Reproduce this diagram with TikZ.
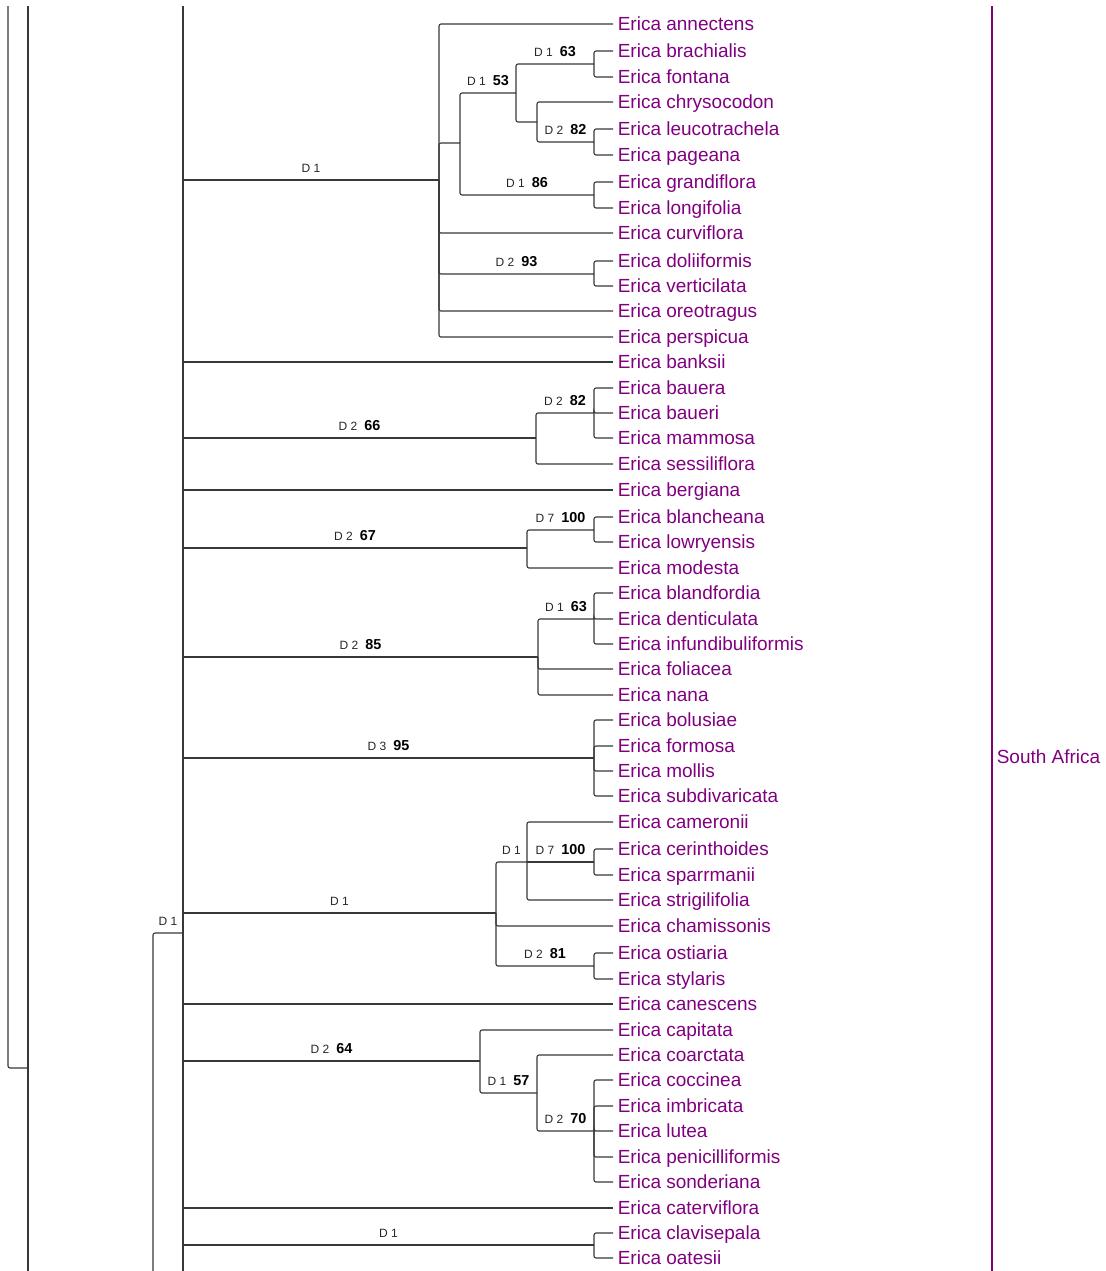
\documentclass[tikz,border=0pt]{standalone}
\usepackage{fontspec}
\setmainfont{Liberation Sans}
\usepackage{tikz}
\usetikzlibrary{calc}
\definecolor{ericapurple}{RGB}{128,0,128}
\colorlet{linegray}{black!78}
\newcommand{\taxonsize}{\fontsize{9.5}{11}\selectfont}
\newcommand{\dsize}{\fontsize{6}{7}\selectfont}
\newcommand{\supportlab}[2]{#1\hspace{3.5pt}{\color{black}\bfseries\fontsize{7.2}{8}\selectfont #2}}

\begin{document}
\begin{tikzpicture}[
		x=0.5pt, y=-0.5pt,
		inner sep=0pt, outer sep=0pt,%
		branch/.style={line width=0.55pt, color=linegray, rounded corners=1pt},
		taxon/.style={anchor=west, inner sep=2.4pt, text=ericapurple, font=\taxonsize,
			text height=6.8pt, text depth=0pt},
		support/.style={anchor=south, yshift=3.7pt, text=black!85, font=\dsize, text depth=0pt},
		region/.style={line width=0.8pt, color=ericapurple},
	]
		\useasboundingbox (0,0) rectangle (1105,1271);

		% Taxa
		\foreach \y/\n in {24/annectens, 51/brachialis, 77/fontana, 102/chrysocodon,
			129/leucotrachela, 155/pageana, 182/grandiflora, 208/longifolia,
			233/curviflora, 261/doliiformis, 286/verticilata, 311/oreotragus,
			337/perspicua, 362/banksii, 388/bauera, 413/baueri, 438/mammosa,
			464/sessiliflora, 490/bergiana, 517/blancheana, 542/lowryensis,
			568/modesta, 593/blandfordia, 619/denticulata, 644/infundibuliformis,
			669/foliacea, 695/nana, 720/bolusiae, 746/formosa, 771/mollis,
			796/subdivaricata, 822/cameronii, 849/cerinthoides, 875/sparrmanii,
			900/strigilifolia, 926/chamissonis, 953/ostiaria, 979/stylaris,
			1004/canescens, 1030/capitata, 1055/coarctata, 1080/coccinea,
			1106/imbricata, 1131/lutea, 1157/penicilliformis, 1182/sonderiana,
			1208/caterviflora, 1233/clavisepala, 1258/oatesii}
			\node[taxon] (\n) at (613,\y) {Erica \n};

		% Region bar
		\coordinate (bar top) at (992,6);
		\coordinate (bar bot) at (992,1271);
		\draw[region] (bar top) -- (bar bot);
		\node[taxon] (africa) at (992,757) {South Africa};

		% Stems cut by the page edge
		\coordinate (deep top) at (8,6);
		\coordinate (deep) at (28,1068);
		\coordinate (mid top) at (28,6);
		\coordinate (mid bot) at (28,1271);
		\coordinate (root top) at (183,6);
		\coordinate (root bot) at (183,1271);
		\coordinate (root) at (183,933);
		\coordinate (base) at (153,1271);
		\draw[branch] (deep top) |- (deep);
		\draw[branch] (mid top) -- (mid bot);
		\draw[branch] (root top) -- (root bot);
		\draw[branch] (base) |- node[support, pos=0.75] {D 1} (root);

		% Clade nodes
		\coordinate (cA) at (439,180);
		\coordinate (cA1) at (460,143);
		\coordinate (cA2) at (516,93);
		\coordinate (cA3) at (594,64);
		\coordinate (cA4) at (537,122);
		\coordinate (cA5) at (594,142);
		\coordinate (cA6) at (594,195);
		\coordinate (cA7) at (594,274);
		\coordinate (cB) at (536,438);
		\coordinate (cB1) at (594,413);
		\coordinate (cC) at (527,548);
		\coordinate (cC1) at (594,530);
		\coordinate (cD) at (538,657);
		\coordinate (cD1) at (594,619);
		\coordinate (cE) at (594,758);
		\coordinate (cF) at (496,913);
		\coordinate (cF1) at (527,862);
		\coordinate (cF2) at (594,862);
		\coordinate (cF3) at (594,966);
		\coordinate (cG) at (480,1061);
		\coordinate (cG1) at (537,1093);
		\coordinate (cG2) at (594,1131);
		\coordinate (cH) at (594,1245);

		% Branches off the root
		\draw[branch] (root |- cA) -- node[support] {D 1} (cA);
		\draw[branch] (root |- banksii.west) -- (banksii.west);
		\draw[branch] (root |- cB) -- node[support] {\supportlab{D 2}{66}} (cB);
		\draw[branch] (root |- bergiana.west) -- (bergiana.west);
		\draw[branch] (root |- cC) -- node[support] {\supportlab{D 2}{67}} (cC);
		\draw[branch] (root |- cD) -- node[support] {\supportlab{D 2}{85}} (cD);
		\draw[branch] (root |- cE) -- node[support] {\supportlab{D 3}{95}} (cE);
		\draw[branch] (root |- cF) -- node[support] {D 1} (cF);
		\draw[branch] (root |- canescens.west) -- (canescens.west);
		\draw[branch] (root |- cG) -- node[support] {\supportlab{D 2}{64}} (cG);
		\draw[branch] (root |- caterviflora.west) -- (caterviflora.west);
		\draw[branch] (root |- cH) -- node[support] {D 1} (cH);

		% Clade A
		\draw[branch] (cA) |- (annectens.west);
		\draw[branch] (cA) |- (cA1);
		\draw[branch] (cA) |- (curviflora.west);
		\draw[branch] (cA) |- node[support, pos=0.75] {\supportlab{D 2}{93}} (cA7);
		\draw[branch] (cA) |- (oreotragus.west);
		\draw[branch] (cA) |- (perspicua.west);
		\draw[branch] (cA1) |- node[support, pos=0.75] {\supportlab{D 1}{53}} (cA2);
		\draw[branch] (cA1) |- node[support, pos=0.75] {\supportlab{D 1}{86}} (cA6);
		\draw[branch] (cA2) |- node[support, pos=0.75] {\supportlab{D 1}{63}} (cA3);
		\draw[branch] (cA2) |- (cA4);
		\draw[branch] (cA4) |- (chrysocodon.west);
		\draw[branch] (cA4) |- node[support, pos=0.75] {\supportlab{D 2}{82}} (cA5);
		\foreach \a/\b in {cA3/brachialis, cA3/fontana, cA5/leucotrachela, cA5/pageana,
			cA6/grandiflora, cA6/longifolia, cA7/doliiformis, cA7/verticilata}
			\draw[branch] (\a) |- (\b.west);

		% Clades B to E
		\draw[branch] (cB) |- node[support, pos=0.75] {\supportlab{D 2}{82}} (cB1);
		\draw[branch] (cB) |- (sessiliflora.west);
		\draw[branch] (cC) |- node[support, pos=0.75] {\supportlab{D 7}{100}} (cC1);
		\draw[branch] (cC) |- (modesta.west);
		\draw[branch] (cD) |- node[support, pos=0.75] {\supportlab{D 1}{63}} (cD1);
		\draw[branch] (cD) |- (foliacea.west);
		\draw[branch] (cD) |- (nana.west);
		\foreach \a/\b in {cB1/bauera, cB1/baueri, cB1/mammosa, cC1/blancheana,
			cC1/lowryensis, cD1/blandfordia, cD1/denticulata, cD1/infundibuliformis,
			cE/bolusiae, cE/formosa, cE/mollis, cE/subdivaricata}
			\draw[branch] (\a) |- (\b.west);

		% Clade F
		\draw[branch] (cF) |- node[support, pos=0.75] {D 1} (cF1);
		\draw[branch] (cF) |- (chamissonis.west);
		\draw[branch] (cF) |- node[support, pos=0.75] {\supportlab{D 2}{81}} (cF3);
		\draw[branch] (cF1) |- (cameronii.west);
		\draw[branch] (cF1) -- node[support] {\supportlab{D 7}{100}} (cF2);
		\draw[branch] (cF1) |- (strigilifolia.west);
		\foreach \a/\b in {cF2/cerinthoides, cF2/sparrmanii, cF3/ostiaria, cF3/stylaris}
			\draw[branch] (\a) |- (\b.west);

		% Clades G and H
		\draw[branch] (cG) |- (capitata.west);
		\draw[branch] (cG) |- node[support, pos=0.75] {\supportlab{D 1}{57}} (cG1);
		\draw[branch] (cG1) |- (coarctata.west);
		\draw[branch] (cG1) |- node[support, pos=0.75] {\supportlab{D 2}{70}} (cG2);
		\foreach \a/\b in {cG2/coccinea, cG2/imbricata, cG2/lutea, cG2/penicilliformis,
			cG2/sonderiana, cH/clavisepala, cH/oatesii}
			\draw[branch] (\a) |- (\b.west);
	\end{tikzpicture}
\end{document}
